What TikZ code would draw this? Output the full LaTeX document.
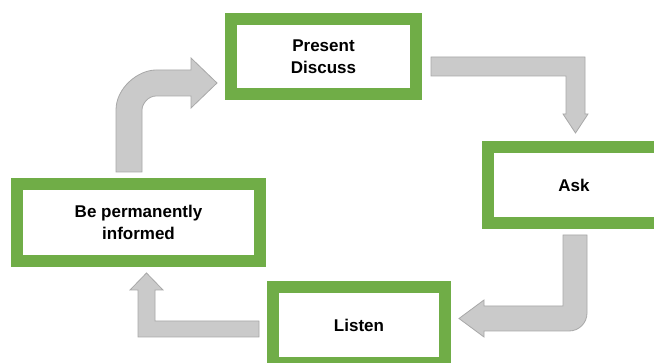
\documentclass[tikz,border=0pt]{standalone}
\usepackage{fontspec}
\setmainfont{Liberation Sans}
\definecolor{boxgreen}{HTML}{70AD47}
\definecolor{arrowgray}{HTML}{CACACA}
\definecolor{arrowedge}{HTML}{A8A8A8}
\tikzset{
  stepbox/.style={draw=boxgreen, fill=white, line width=12pt, align=center,
    font=\bfseries\fontsize{17}{22}\selectfont, inner sep=0pt},
  blockarrow/.style={fill=arrowgray, draw=arrowedge, line width=0.8pt, line join=miter}
}
\begin{document}
\begin{tikzpicture}[x=1pt,y=-1pt]
\useasboundingbox (0,0) rectangle (654,363);
\clip (0,0) rectangle (654,363);
\fill[white] (0,0) rectangle (654,363);
% boxes
\node[stepbox, minimum width=185pt, minimum height=75pt] (present) at (323.5,56.5) {Present\\Discuss};
\node[stepbox, minimum width=172pt, minimum height=76pt] (ask) at (574,185) {Ask};
\node[stepbox, minimum width=172pt, minimum height=76pt] (listen) at (359,325) {Listen};
\node[stepbox, minimum width=243pt, minimum height=77pt] (inform) at (138.5,222.5) {Be permanently\\informed};
% arrow: inform -> present (bent, rounded)
\draw[blockarrow] (116,172) -- (116,110)
  .. controls (116,87.9) and (138.1,70) .. (156,70)
  -- (191,70) -- (191,58) -- (217,83) -- (191,108) -- (191,96) -- (156,96)
  .. controls (148.3,96) and (142,103.7) .. (142,110)
  -- (142,172) -- cycle;
% arrow: present -> ask
\draw[blockarrow] (431,57) -- (585,57) -- (585,114) -- (588,114) -- (575.5,133)
  -- (563,114) -- (566,114) -- (566,76) -- (431,76) -- cycle;
% arrow: ask -> listen
\draw[blockarrow] (563,235) -- (587,235) -- (587,313)
  .. controls (587,323) and (579,331) .. (569,331)
  -- (484,331) -- (484,337) -- (459,318.5) -- (484,300) -- (484,306)
  -- (563,306) -- cycle;
% arrow: listen -> inform
\draw[blockarrow] (259,321) -- (259,337) -- (138,337) -- (138,290) -- (130,290)
  -- (146.5,273) -- (163,290) -- (155,290) -- (155,321) -- cycle;
\end{tikzpicture}
\end{document}
